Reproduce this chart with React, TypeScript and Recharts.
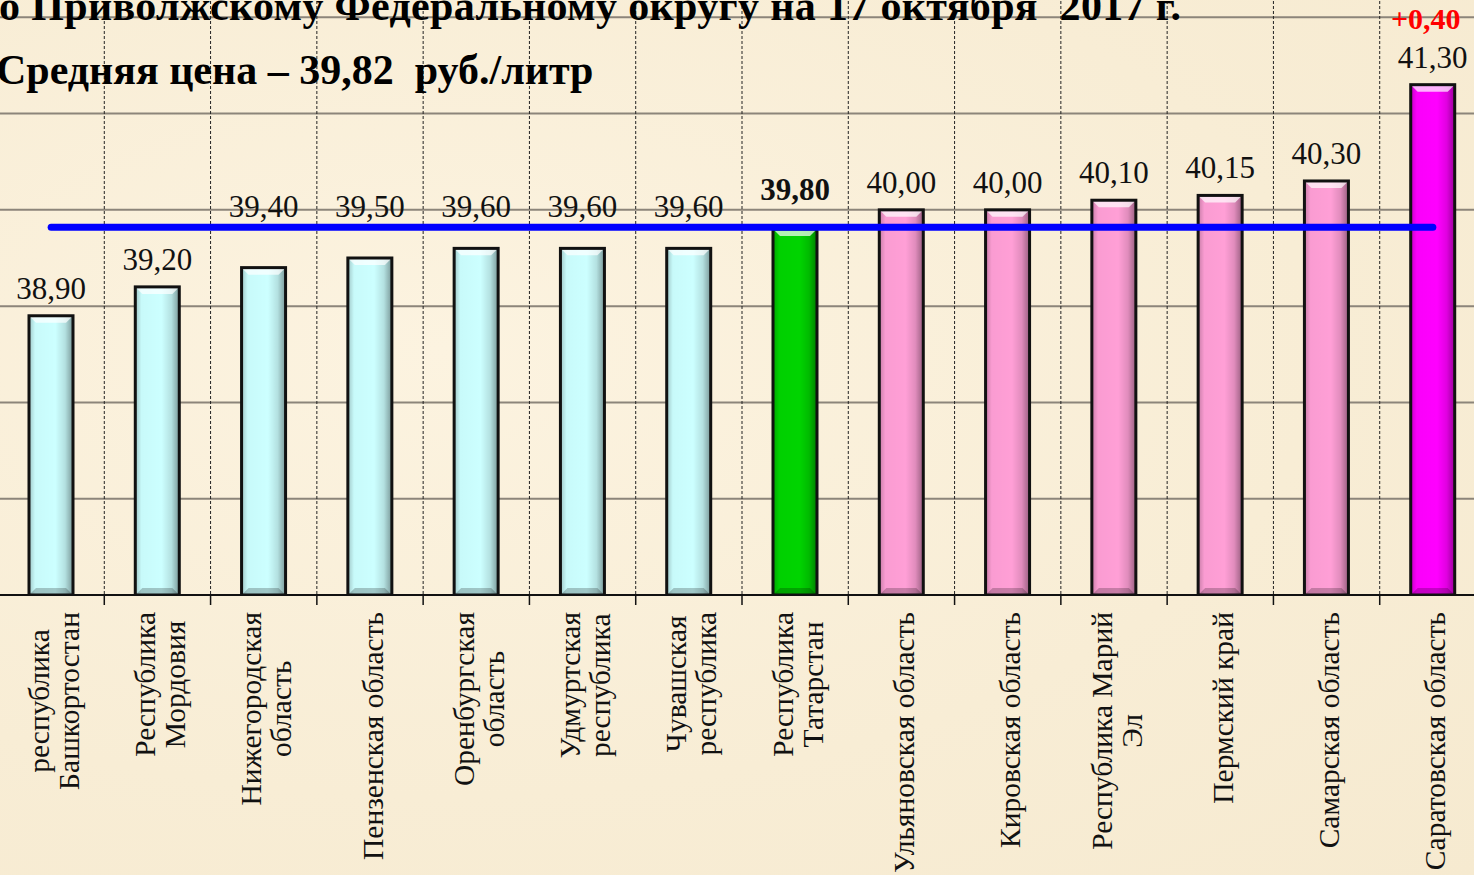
import { ComposedChart, Bar, Line, XAxis, YAxis, CartesianGrid, Cell, LabelList } from "recharts"

const regions = [
  "республика\nБашкортостан",
  "Республика\nМордовия",
  "Нижегородская\nобласть",
  "Пензенская область",
  "Оренбургская\nобласть",
  "Удмуртская\nреспублика",
  "Чувашская\nреспублика",
  "Республика\nТатарстан",
  "Ульяновская область",
  "Кировская область",
  "Республика Марий\nЭл",
  "Пермский край",
  "Самарская область",
  "Саратовская область",
]
const prices = [38.9, 39.2, 39.4, 39.5, 39.6, 39.6, 39.6, 39.8, 40.0, 40.0, 40.1, 40.15, 40.3, 41.3]
const groups = ["low", "low", "low", "low", "low", "low", "low", "home", "high", "high", "high", "high", "high", "top"]
const changes = [null, null, null, null, null, null, null, null, null, null, null, null, null, "+0,40"]
const AVERAGE = 39.82
const Y_MIN = 36
const yTicks = [36, 37, 38, 39, 40, 41, 42, 43]

const titleLine1 = "о Приволжскому Федеральному округу на 17 октября  2017 г."
const titleLine2 = "Средняя цена – 39,82  руб./литр"

const groupColor: Record<string, string> = {
  low: "#CCFFFF",
  home: "#00D400",
  high: "#FF9FD6",
  top: "#FF00FF",
}

const rows = regions.map((region, i) => ({
  region,
  price: prices[i],
  avg: AVERAGE,
  group: groups[i],
  change: changes[i],
}))

const FONT = "'Liberation Serif', 'Times New Roman', serif"
const TICK_FS = 29.5
const TICK_LH = 30

let ctx: CanvasRenderingContext2D | null = null
function textWidth(s: string, font: string) {
  if (!ctx) ctx = document.createElement("canvas").getContext("2d")
  if (!ctx) return s.length * TICK_FS * 0.48
  ctx.font = font
  return ctx.measureText(s).width
}

const fmt = (v: number) => v.toFixed(2).replace(".", ",")

// grid lines sit on the borders between regions, not on the band centres
function bandBorders({ offset }: any) {
  const step = offset.width / regions.length
  return regions.map((_, i) => offset.left + i * step).concat(offset.left + offset.width)
}

function BevelBar(props: any) {
  const { x, y, width, height, fill, index } = props
  if (!height || height <= 0) return null
  const b = 7
  const id = `shade${index}`
  return (
    <g>
      <defs>
        <linearGradient id={id} x1="0" y1="0" x2="1" y2="0">
          <stop offset="0" stopColor="#000" stopOpacity={0.22} />
          <stop offset="0.14" stopColor="#000" stopOpacity={0.02} />
          <stop offset="0.6" stopColor="#000" stopOpacity={0} />
          <stop offset="0.82" stopColor="#000" stopOpacity={0.12} />
          <stop offset="1" stopColor="#000" stopOpacity={0.4} />
        </linearGradient>
      </defs>
      <rect x={x} y={y} width={width} height={height} fill={fill} />
      <rect x={x} y={y} width={width} height={height} fill={`url(#${id})`} />
      <polygon
        points={`${x},${y} ${x + width},${y} ${x + width - b},${y + b} ${x + b},${y + b}`}
        fill="#fff"
        opacity={0.7}
      />
      <polygon
        points={`${x},${y + height} ${x + width},${y + height} ${x + width - b},${y + height - b} ${x + b},${y + height - b}`}
        fill="#000"
        opacity={0.22}
      />
      <rect x={x} y={y} width={width} height={height} fill="none" stroke="#111" strokeWidth={3} />
    </g>
  )
}

function ValueLabel(props: any) {
  const { x, y, width, height, value, index } = props
  const cx = x + width / 2
  const lineY = y + height - ((AVERAGE - Y_MIN) * height) / (value - Y_MIN)
  let base = y - 17
  // keep labels clear of the average line
  if (Math.abs(y - lineY) < 10) base = lineY - 27
  else if (y > lineY && y < lineY + 50) base = Math.min(base, lineY - 10)
  const bold = groups[index] === "home"
  const change = changes[index]
  return (
    <g>
      <text x={cx} y={base} textAnchor="middle" fontFamily={FONT} fontSize={31} fontWeight={bold ? 700 : 400} fill="#111">
        {fmt(value)}
      </text>
      {change && (
        <text x={cx - 7} y={base - 39} textAnchor="middle" fontFamily={FONT} fontSize={30} fontWeight={700} fill="#FF0000">
          {change}
        </text>
      )}
    </g>
  )
}

function RegionTick(props: any) {
  const { x, y, payload } = props
  const lines = String(payload.value).split("\n")
  const font = `${TICK_FS}px ${FONT}`
  const maxW = Math.max(...lines.map((l) => textWidth(l, font)))
  const half = payload.offset || 53
  const n = lines.length
  return (
    <g>
      <line x1={x - half} y1={y} x2={x - half} y2={y + 10} stroke="#111" strokeWidth={1.5} />
      <g transform={`translate(${x + 2},${y + 17}) rotate(-90)`}>
        {lines.map((l, i) => (
          <text
            key={i}
            x={-maxW / 2}
            y={(i - (n - 1) / 2) * TICK_LH + TICK_FS * 0.36}
            textAnchor="middle"
            fontFamily={FONT}
            fontSize={TICK_FS}
            fill="#111"
          >
            {l}
          </text>
        ))}
      </g>
    </g>
  )
}

export default function App() {
  return (
    <div
      style={{
        position: "absolute",
        left: 0,
        top: 0,
        width: 1474,
        height: 875,
        overflow: "hidden",
        background: "radial-gradient(ellipse at 30% 40%, #FCF3E0 0%, #F8EDD5 60%, #F6EAD0 100%)",
      }}
    >
      <div style={{ position: "absolute", left: -2, top: -79 }}>
        <ComposedChart width={1488} height={964} data={rows} margin={{ top: 0, right: 0, bottom: 0, left: 0 }}>
          <YAxis domain={[Y_MIN, 43]} ticks={yTicks} allowDataOverflow hide />
          <CartesianGrid vertical={false} stroke="#8C857A" strokeWidth={2} />
          <CartesianGrid
            horizontal={false}
            verticalCoordinatesGenerator={bandBorders}
            stroke="#222"
            strokeWidth={1}
            strokeDasharray="3 2"
          />
          <XAxis
            dataKey="region"
            interval={0}
            height={290}
            tickSize={0}
            tickMargin={0}
            tickLine={false}
            axisLine={{ stroke: "#111", strokeWidth: 2 }}
            tick={<RegionTick />}
          />
          <Bar dataKey="price" barSize={44} shape={<BevelBar />} isAnimationActive={false}>
            {rows.map((r, i) => (
              <Cell key={i} fill={groupColor[r.group]} />
            ))}
            <LabelList dataKey="price" content={<ValueLabel />} />
          </Bar>
          <Line
            dataKey="avg"
            stroke="#0000FF"
            strokeWidth={7}
            strokeLinecap="round"
            dot={false}
            activeDot={false}
            isAnimationActive={false}
          />
        </ComposedChart>
      </div>
      <svg width={1474} height={875} style={{ position: "absolute", left: 0, top: 0, pointerEvents: "none" }}>
        <text
          x={-1}
          y={20}
          fontFamily={FONT}
          fontSize={42}
          fontWeight={700}
          fill="#000"
          textLength={1182}
          lengthAdjust="spacing"
          style={{ whiteSpace: "pre" }}
        >
          {titleLine1}
        </text>
        <text x={-4} y={84} fontFamily={FONT} fontSize={42} fontWeight={700} fill="#000" style={{ whiteSpace: "pre" }}>
          {titleLine2}
        </text>
      </svg>
    </div>
  )
}
